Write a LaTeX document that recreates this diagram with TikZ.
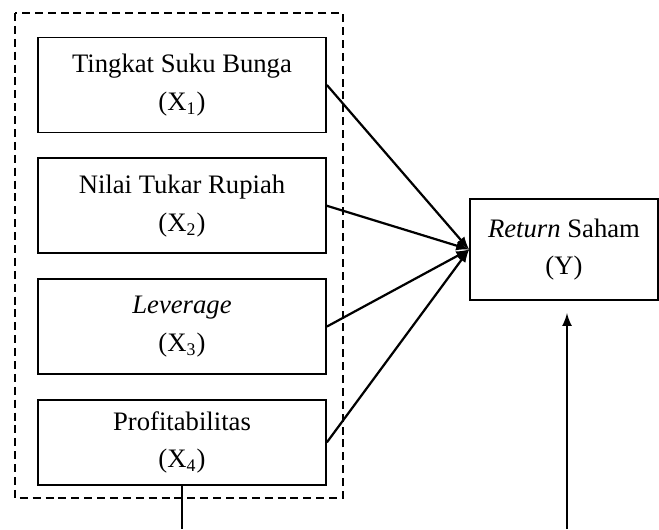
\documentclass[tikz,border=0pt]{standalone}
\usepackage{fontspec}
\setmainfont{Liberation Serif}
\usetikzlibrary{positioning,arrows}
\tikzset{
  font=\fontsize{12}{17}\selectfont
}

\begin{document}
\begin{tikzpicture}[x=0.45pt,y=-0.45pt,>=latex,
  var/.style={rectangle,draw,line width=0.8pt,align=center,
              minimum width=129.6pt,minimum height=42.75pt,inner sep=0pt},
  link/.style={->,line width=1pt}]
\useasboundingbox (0,0) rectangle (659,529);
\node[var] (x1) at (182,85) {Tingkat Suku Bunga\\(X\textsubscript{1})};
\node[var] (x2) [below=10.8pt of x1] {Nilai Tukar Rupiah\\(X\textsubscript{2})};
\node[var] (x3) [below=10.8pt of x2] {\textit{Leverage}\\(X\textsubscript{3})};
\node[var,minimum height=38.25pt] (x4) [below=10.8pt of x3] {Profitabilitas\\(X\textsubscript{4})};
\node[var,minimum width=84.6pt,minimum height=45.45pt] (y) at (564,249.5) {\textit{Return} Saham\\(Y)};
\coordinate (x4end) at (182,529);
\coordinate (base) at (567,529);
\coordinate (tip) at (567,313);
% dashed frame round the independent variables
\draw[dashed,line width=0.6pt,dash pattern=on 3.6pt off 2.2pt] (15,13) rectangle (343,498);
\draw[link] (x1.east) -- (y.west);
\draw[link] (x2.east) -- (y.west);
\draw[link] (x3.east) -- (y.west);
\draw[link] (x4.east) -- (y.west);
\draw[line width=1pt] (x4.south) -- (x4end);
\draw[link] (base) -- (tip);
\end{tikzpicture}
\end{document}
